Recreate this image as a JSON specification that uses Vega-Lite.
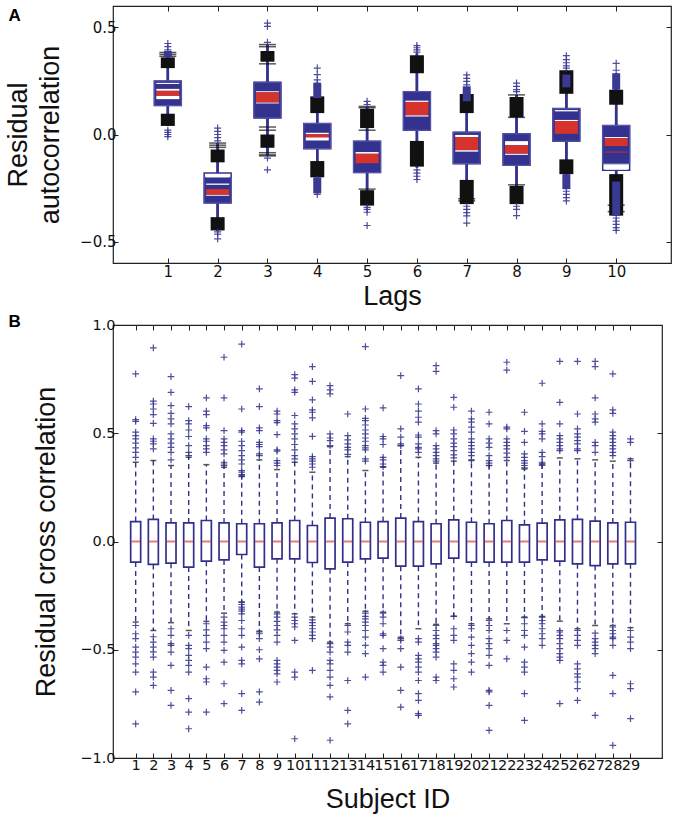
{
 "$schema": "https://vega.github.io/schema/vega-lite/v6.json",
 "padding": {"left": 3, "top": 4, "right": 5, "bottom": 2},
 "spacing": 1,
 "config": {
  "font": "Liberation Sans",
  "view": {"stroke": "#222", "strokeWidth": 1.2},
  "axis": {"grid": false, "domain": false, "tickColor": "#222", "tickSize": -5, "tickWidth": 1, "labelFont": "DejaVu Sans", "labelColor": "#111", "labelPadding": 4, "labelOverlap": false, "labelFlush": false, "titleFont": "Liberation Sans", "titleFontSize": 27, "titleFontWeight": "normal", "titleColor": "#111"}
 },
 "datasets": {
  "a_box": [
   {"lag":1,"q1":0.135,"q3":0.25,"ol":0.135,"oh":0.25,"wlo":0.04,"whi":0.385},
   {"lag":2,"q1":-0.32,"q3":-0.2,"ol":-0.32,"oh":-0.18,"wlo":-0.45,"whi":-0.04},
   {"lag":3,"q1":0.077,"q3":0.244,"ol":0.077,"oh":0.244,"wlo":-0.1,"whi":0.42},
   {"lag":4,"q1":-0.066,"q3":0.051,"ol":-0.066,"oh":0.051,"wlo":-0.2,"whi":0.2},
   {"lag":5,"q1":-0.178,"q3":-0.031,"ol":-0.178,"oh":-0.031,"wlo":-0.332,"whi":0.131},
   {"lag":6,"q1":0.02,"q3":0.2,"ol":0.02,"oh":0.2,"wlo":-0.155,"whi":0.379},
   {"lag":7,"q1":-0.136,"q3":0.011,"ol":-0.136,"oh":0.011,"wlo":-0.325,"whi":0.2},
   {"lag":8,"q1":-0.144,"q3":0.003,"ol":-0.144,"oh":0.003,"wlo":-0.325,"whi":0.185},
   {"lag":9,"q1":-0.031,"q3":0.121,"ol":-0.031,"oh":0.121,"wlo":-0.255,"whi":0.3},
   {"lag":10,"q1":-0.137,"q3":0.042,"ol":-0.167,"oh":0.042,"wlo":-0.379,"whi":0.286}
  ],
  "a_black": [
   {"lag":1,"lo":0.31,"hi":0.36},{"lag":1,"lo":0.04,"hi":0.097},
   {"lag":2,"lo":-0.13,"hi":-0.07},{"lag":2,"lo":-0.448,"hi":-0.386},
   {"lag":3,"lo":0.34,"hi":0.39},{"lag":3,"lo":-0.062,"hi":0.0},
   {"lag":4,"lo":0.1,"hi":0.178},{"lag":4,"lo":-0.2,"hi":-0.124},
   {"lag":5,"lo":0.03,"hi":0.12},{"lag":5,"lo":-0.332,"hi":-0.26},
   {"lag":6,"lo":0.286,"hi":0.37},{"lag":6,"lo":-0.15,"hi":-0.03},
   {"lag":7,"lo":0.1,"hi":0.189},{"lag":7,"lo":-0.325,"hi":-0.212},
   {"lag":8,"lo":0.08,"hi":0.175},{"lag":8,"lo":-0.325,"hi":-0.24},
   {"lag":9,"lo":0.19,"hi":0.3},{"lag":9,"lo":-0.185,"hi":-0.116},
   {"lag":10,"lo":0.139,"hi":0.209},{"lag":10,"lo":-0.379,"hi":-0.185}
  ],
  "a_cap": [
   {"lag":1,"v":0.383},{"lag":1,"v":0.374},{"lag":1,"v":0.365},
   {"lag":2,"v":-0.04},{"lag":2,"v":-0.05},{"lag":2,"v":-0.06},
   {"lag":3,"v":0.42},{"lag":3,"v":0.41},{"lag":3,"v":0.33},{"lag":3,"v":0.035},{"lag":3,"v":0.02},{"lag":3,"v":-0.085},{"lag":3,"v":-0.095},{"lag":3,"v":-0.1},
   {"lag":5,"v":0.131},{"lag":5,"v":0.125},{"lag":5,"v":0.02},{"lag":5,"v":-0.255},
   {"lag":7,"v":-0.3},{"lag":7,"v":-0.31},
   {"lag":8,"v":0.185},{"lag":8,"v":0.08},{"lag":8,"v":-0.235},
   {"lag":10,"v":-0.33},{"lag":10,"v":-0.36}
  ],
  "a_navy": [
   {"lag":1,"lo":0.36,"hi":0.39},
   {"lag":4,"lo":0.17,"hi":0.24},{"lag":4,"lo":-0.275,"hi":-0.2},
   {"lag":7,"lo":0.155,"hi":0.225},
   {"lag":9,"lo":-0.255,"hi":-0.185},{"lag":9,"lo":0.22,"hi":0.28},
   {"lag":10,"lo":0.209,"hi":0.286},{"lag":10,"lo":-0.38,"hi":-0.22}
  ],
  "a_white": [
   {"lag":1,"lo":0.236,"hi":0.241},{"lag":1,"lo":0.204,"hi":0.213},{"lag":1,"lo":0.165,"hi":0.181},
   {"lag":2,"lo":-0.2,"hi":-0.185},{"lag":2,"lo":-0.235,"hi":-0.229},{"lag":2,"lo":-0.286,"hi":-0.281},
   {"lag":3,"lo":0.197,"hi":0.202},{"lag":3,"lo":0.145,"hi":0.15},
   {"lag":4,"lo":0.002,"hi":0.008},{"lag":4,"lo":-0.028,"hi":-0.013},
   {"lag":5,"lo":-0.09,"hi":-0.082},
   {"lag":6,"lo":0.152,"hi":0.158},{"lag":6,"lo":0.084,"hi":0.09},
   {"lag":7,"lo":-0.012,"hi":-0.002},{"lag":7,"lo":-0.08,"hi":-0.073},
   {"lag":8,"lo":-0.05,"hi":-0.031},{"lag":8,"lo":-0.095,"hi":-0.089},
   {"lag":9,"lo":0.108,"hi":0.114},{"lag":9,"lo":0.063,"hi":0.068},
   {"lag":10,"lo":-0.017,"hi":-0.012},{"lag":10,"lo":-0.164,"hi":-0.152}
  ],
  "a_red": [
   {"lag":1,"lo":0.181,"hi":0.204},
   {"lag":2,"lo":-0.281,"hi":-0.255},
   {"lag":3,"lo":0.15,"hi":0.197},
   {"lag":4,"lo":-0.013,"hi":0.002},
   {"lag":5,"lo":-0.134,"hi":-0.09},
   {"lag":6,"lo":0.09,"hi":0.152},
   {"lag":7,"lo":-0.073,"hi":-0.012},
   {"lag":8,"lo":-0.089,"hi":-0.05},
   {"lag":9,"lo":0.003,"hi":0.063},
   {"lag":10,"lo":-0.054,"hi":-0.017},
   {"lag":10,"lo":-0.084,"hi":-0.08}
  ],
  "a_out": [
   {"lag":1,"v":0.425},{"lag":1,"v":0.41},{"lag":1,"v":0.395},{"lag":1,"v":0.02},{"lag":1,"v":0.01},{"lag":1,"v":0.0},{"lag":1,"v":-0.01},
   {"lag":2,"v":0.03},{"lag":2,"v":0.015},{"lag":2,"v":0.0},{"lag":2,"v":-0.015},{"lag":2,"v":-0.03},{"lag":2,"v":-0.455},{"lag":2,"v":-0.465},{"lag":2,"v":-0.487},
   {"lag":3,"v":0.52},{"lag":3,"v":0.505},{"lag":3,"v":0.43},{"lag":3,"v":-0.11},{"lag":3,"v":-0.165},
   {"lag":4,"v":0.31},{"lag":4,"v":0.28},{"lag":4,"v":0.255},{"lag":4,"v":0.24},{"lag":4,"v":0.225},{"lag":4,"v":-0.21},{"lag":4,"v":-0.225},{"lag":4,"v":-0.24},{"lag":4,"v":-0.255},{"lag":4,"v":-0.265},{"lag":4,"v":-0.28},
   {"lag":5,"v":0.155},{"lag":5,"v":0.14},{"lag":5,"v":-0.34},{"lag":5,"v":-0.35},{"lag":5,"v":-0.363},{"lag":5,"v":-0.425},
   {"lag":6,"v":0.415},{"lag":6,"v":0.405},{"lag":6,"v":0.395},{"lag":6,"v":0.385},{"lag":6,"v":-0.165},{"lag":6,"v":-0.18},{"lag":6,"v":-0.195},{"lag":6,"v":-0.21},
   {"lag":7,"v":0.278},{"lag":7,"v":0.262},{"lag":7,"v":0.248},{"lag":7,"v":0.232},{"lag":7,"v":-0.335},{"lag":7,"v":-0.35},{"lag":7,"v":-0.365},{"lag":7,"v":-0.38},{"lag":7,"v":-0.414},
   {"lag":8,"v":0.24},{"lag":8,"v":0.225},{"lag":8,"v":0.21},{"lag":8,"v":0.2},{"lag":8,"v":-0.335},{"lag":8,"v":-0.35},{"lag":8,"v":-0.379},
   {"lag":9,"v":0.368},{"lag":9,"v":0.35},{"lag":9,"v":0.335},{"lag":9,"v":0.32},{"lag":9,"v":0.31},{"lag":9,"v":-0.265},{"lag":9,"v":-0.28},{"lag":9,"v":-0.295},{"lag":9,"v":-0.31},
   {"lag":10,"v":0.332},{"lag":10,"v":0.3},{"lag":10,"v":-0.39},{"lag":10,"v":-0.405},{"lag":10,"v":-0.42},{"lag":10,"v":-0.435},{"lag":10,"v":-0.448}
  ],
  "b_box": [
   {"s":1,"q1":-0.095,"q3":0.092,"lo":-0.372,"hi":0.366,"med":0},
   {"s":2,"q1":-0.106,"q3":0.102,"lo":-0.411,"hi":0.374,"med":0},
   {"s":3,"q1":-0.1,"q3":0.086,"lo":-0.375,"hi":0.351,"med":0},
   {"s":4,"q1":-0.118,"q3":0.086,"lo":-0.411,"hi":0.389,"med":0},
   {"s":5,"q1":-0.091,"q3":0.097,"lo":-0.369,"hi":0.355,"med":0},
   {"s":6,"q1":-0.085,"q3":0.086,"lo":-0.331,"hi":0.343,"med":0},
   {"s":7,"q1":-0.06,"q3":0.082,"lo":-0.28,"hi":0.305,"med":0},
   {"s":8,"q1":-0.118,"q3":0.082,"lo":-0.414,"hi":0.377,"med":0},
   {"s":9,"q1":-0.08,"q3":0.086,"lo":-0.326,"hi":0.332,"med":0},
   {"s":10,"q1":-0.08,"q3":0.097,"lo":-0.334,"hi":0.366,"med":0},
   {"s":11,"q1":-0.097,"q3":0.074,"lo":-0.349,"hi":0.32,"med":0},
   {"s":12,"q1":-0.126,"q3":0.108,"lo":-0.465,"hi":0.438,"med":0},
   {"s":13,"q1":-0.095,"q3":0.105,"lo":-0.38,"hi":0.392,"med":0},
   {"s":14,"q1":-0.08,"q3":0.089,"lo":-0.322,"hi":0.328,"med":0},
   {"s":15,"q1":-0.077,"q3":0.092,"lo":-0.326,"hi":0.343,"med":0},
   {"s":16,"q1":-0.114,"q3":0.108,"lo":-0.442,"hi":0.443,"med":0},
   {"s":17,"q1":-0.114,"q3":0.092,"lo":-0.403,"hi":0.389,"med":0},
   {"s":18,"q1":-0.103,"q3":0.082,"lo":-0.383,"hi":0.362,"med":0},
   {"s":19,"q1":-0.077,"q3":0.1,"lo":-0.345,"hi":0.371,"med":0},
   {"s":20,"q1":-0.095,"q3":0.089,"lo":-0.38,"hi":0.374,"med":0},
   {"s":21,"q1":-0.095,"q3":0.082,"lo":-0.357,"hi":0.351,"med":0},
   {"s":22,"q1":-0.095,"q3":0.097,"lo":-0.38,"hi":0.374,"med":0},
   {"s":23,"q1":-0.095,"q3":0.077,"lo":-0.349,"hi":0.335,"med":0},
   {"s":24,"q1":-0.085,"q3":0.085,"lo":-0.346,"hi":0.358,"med":0},
   {"s":25,"q1":-0.091,"q3":0.1,"lo":-0.368,"hi":0.386,"med":0},
   {"s":26,"q1":-0.103,"q3":0.102,"lo":-0.403,"hi":0.382,"med":0},
   {"s":27,"q1":-0.111,"q3":0.094,"lo":-0.388,"hi":0.377,"med":0},
   {"s":28,"q1":-0.103,"q3":0.086,"lo":-0.388,"hi":0.371,"med":0},
   {"s":29,"q1":-0.103,"q3":0.089,"lo":-0.398,"hi":0.382,"med":0}
  ],
  "b_out": [
   {"s":1,"v":0.774},{"s":1,"v":0.563},{"s":1,"v":0.555},{"s":1,"v":0.505},{"s":1,"v":0.489},{"s":1,"v":0.474},{"s":1,"v":0.454},{"s":1,"v":0.432},{"s":1,"v":0.412},{"s":1,"v":0.389},{"s":1,"v":-0.388},{"s":1,"v":-0.426},{"s":1,"v":-0.449},{"s":1,"v":-0.488},{"s":1,"v":-0.511},{"s":1,"v":-0.534},{"s":1,"v":-0.565},{"s":1,"v":-0.603},{"s":1,"v":-0.695},{"s":1,"v":-0.842},
   {"s":2,"v":0.894},{"s":2,"v":0.648},{"s":2,"v":0.635},{"s":2,"v":0.612},{"s":2,"v":0.586},{"s":2,"v":0.546},{"s":2,"v":0.474},{"s":2,"v":0.463},{"s":2,"v":0.451},{"s":2,"v":0.428},{"s":2,"v":-0.44},{"s":2,"v":-0.465},{"s":2,"v":-0.488},{"s":2,"v":-0.51},{"s":2,"v":-0.534},{"s":2,"v":-0.603},{"s":2,"v":-0.626},{"s":2,"v":-0.665},
   {"s":3,"v":0.762},{"s":3,"v":0.689},{"s":3,"v":0.628},{"s":3,"v":0.592},{"s":3,"v":0.566},{"s":3,"v":0.543},{"s":3,"v":0.497},{"s":3,"v":0.474},{"s":3,"v":0.454},{"s":3,"v":0.435},{"s":3,"v":0.412},{"s":3,"v":0.377},{"s":3,"v":-0.403},{"s":3,"v":-0.434},{"s":3,"v":-0.472},{"s":3,"v":-0.48},{"s":3,"v":-0.511},{"s":3,"v":-0.572},{"s":3,"v":-0.688},{"s":3,"v":-0.757},
   {"s":4,"v":0.623},{"s":4,"v":0.558},{"s":4,"v":0.543},{"s":4,"v":0.515},{"s":4,"v":0.485},{"s":4,"v":0.443},{"s":4,"v":0.412},{"s":4,"v":0.397},{"s":4,"v":-0.434},{"s":4,"v":-0.48},{"s":4,"v":-0.495},{"s":4,"v":-0.526},{"s":4,"v":-0.549},{"s":4,"v":-0.572},{"s":4,"v":-0.603},{"s":4,"v":-0.726},{"s":4,"v":-0.788},{"s":4,"v":-0.865},
   {"s":5,"v":0.663},{"s":5,"v":0.602},{"s":5,"v":0.586},{"s":5,"v":0.535},{"s":5,"v":0.525},{"s":5,"v":0.474},{"s":5,"v":0.463},{"s":5,"v":0.443},{"s":5,"v":0.428},{"s":5,"v":0.412},{"s":5,"v":-0.38},{"s":5,"v":-0.408},{"s":5,"v":-0.434},{"s":5,"v":-0.465},{"s":5,"v":-0.495},{"s":5,"v":-0.58},{"s":5,"v":-0.634},{"s":5,"v":-0.649},{"s":5,"v":-0.788},
   {"s":6,"v":0.851},{"s":6,"v":0.663},{"s":6,"v":0.512},{"s":6,"v":0.474},{"s":6,"v":0.458},{"s":6,"v":0.443},{"s":6,"v":0.423},{"s":6,"v":0.405},{"s":6,"v":0.366},{"s":6,"v":0.358},{"s":6,"v":0.351},{"s":6,"v":-0.349},{"s":6,"v":-0.372},{"s":6,"v":-0.388},{"s":6,"v":-0.403},{"s":6,"v":-0.434},{"s":6,"v":-0.465},{"s":6,"v":-0.503},{"s":6,"v":-0.557},{"s":6,"v":-0.657},{"s":6,"v":-0.749},
   {"s":7,"v":0.912},{"s":7,"v":0.612},{"s":7,"v":0.512},{"s":7,"v":0.505},{"s":7,"v":0.463},{"s":7,"v":0.443},{"s":7,"v":0.42},{"s":7,"v":0.397},{"s":7,"v":0.377},{"s":7,"v":0.358},{"s":7,"v":0.328},{"s":7,"v":0.32},{"s":7,"v":0.309},{"s":7,"v":0.3},{"s":7,"v":-0.28},{"s":7,"v":-0.291},{"s":7,"v":-0.303},{"s":7,"v":-0.312},{"s":7,"v":-0.322},{"s":7,"v":-0.334},{"s":7,"v":-0.365},{"s":7,"v":-0.403},{"s":7,"v":-0.434},{"s":7,"v":-0.488},{"s":7,"v":-0.549},{"s":7,"v":-0.565},{"s":7,"v":-0.703},{"s":7,"v":-0.78},
   {"s":8,"v":0.705},{"s":8,"v":0.623},{"s":8,"v":0.525},{"s":8,"v":0.512},{"s":8,"v":0.458},{"s":8,"v":0.448},{"s":8,"v":0.438},{"s":8,"v":0.405},{"s":8,"v":0.397},{"s":8,"v":-0.418},{"s":8,"v":-0.426},{"s":8,"v":-0.449},{"s":8,"v":-0.5},{"s":8,"v":-0.542},{"s":8,"v":-0.695},{"s":8,"v":-0.742},
   {"s":9,"v":0.602},{"s":9,"v":0.589},{"s":9,"v":0.558},{"s":9,"v":0.549},{"s":9,"v":0.494},{"s":9,"v":0.423},{"s":9,"v":0.417},{"s":9,"v":0.374},{"s":9,"v":0.362},{"s":9,"v":0.351},{"s":9,"v":-0.334},{"s":9,"v":-0.349},{"s":9,"v":-0.369},{"s":9,"v":-0.388},{"s":9,"v":-0.408},{"s":9,"v":-0.434},{"s":9,"v":-0.465},{"s":9,"v":-0.549},{"s":9,"v":-0.565},{"s":9,"v":-0.58},{"s":9,"v":-0.595},{"s":9,"v":-0.611},{"s":9,"v":-0.649},
   {"s":10,"v":0.771},{"s":10,"v":0.755},{"s":10,"v":0.7},{"s":10,"v":0.689},{"s":10,"v":0.582},{"s":10,"v":0.543},{"s":10,"v":0.52},{"s":10,"v":0.497},{"s":10,"v":0.474},{"s":10,"v":0.448},{"s":10,"v":0.423},{"s":10,"v":0.397},{"s":10,"v":0.382},{"s":10,"v":-0.349},{"s":10,"v":-0.365},{"s":10,"v":-0.38},{"s":10,"v":-0.395},{"s":10,"v":-0.457},{"s":10,"v":-0.603},{"s":10,"v":-0.626},{"s":10,"v":-0.911},
   {"s":11,"v":0.808},{"s":11,"v":0.74},{"s":11,"v":0.654},{"s":11,"v":0.608},{"s":11,"v":0.597},{"s":11,"v":0.571},{"s":11,"v":0.486},{"s":11,"v":0.392},{"s":11,"v":0.382},{"s":11,"v":0.371},{"s":11,"v":0.358},{"s":11,"v":0.343},{"s":11,"v":-0.362},{"s":11,"v":-0.375},{"s":11,"v":-0.388},{"s":11,"v":-0.403},{"s":11,"v":-0.418},{"s":11,"v":-0.434},{"s":11,"v":-0.449},{"s":11,"v":-0.595},
   {"s":12,"v":0.72},{"s":12,"v":0.7},{"s":12,"v":0.682},{"s":12,"v":0.497},{"s":12,"v":0.478},{"s":12,"v":0.466},{"s":12,"v":0.443},{"s":12,"v":-0.472},{"s":12,"v":-0.488},{"s":12,"v":-0.511},{"s":12,"v":-0.549},{"s":12,"v":-0.565},{"s":12,"v":-0.595},{"s":12,"v":-0.626},{"s":12,"v":-0.665},{"s":12,"v":-0.718},{"s":12,"v":-0.918},
   {"s":13,"v":0.589},{"s":13,"v":0.489},{"s":13,"v":0.469},{"s":13,"v":0.451},{"s":13,"v":0.435},{"s":13,"v":0.423},{"s":13,"v":0.402},{"s":13,"v":-0.388},{"s":13,"v":-0.418},{"s":13,"v":-0.465},{"s":13,"v":-0.48},{"s":13,"v":-0.511},{"s":13,"v":-0.642},{"s":13,"v":-0.78},{"s":13,"v":-0.842},
   {"s":14,"v":0.9},{"s":14,"v":0.612},{"s":14,"v":0.569},{"s":14,"v":0.558},{"s":14,"v":0.538},{"s":14,"v":0.515},{"s":14,"v":0.497},{"s":14,"v":0.478},{"s":14,"v":0.463},{"s":14,"v":0.443},{"s":14,"v":0.432},{"s":14,"v":0.423},{"s":14,"v":0.382},{"s":14,"v":0.371},{"s":14,"v":-0.331},{"s":14,"v":-0.346},{"s":14,"v":-0.357},{"s":14,"v":-0.372},{"s":14,"v":-0.388},{"s":14,"v":-0.411},{"s":14,"v":-0.442},{"s":14,"v":-0.48},{"s":14,"v":-0.518},{"s":14,"v":-0.626},
   {"s":15,"v":0.617},{"s":15,"v":0.485},{"s":15,"v":0.474},{"s":15,"v":0.448},{"s":15,"v":0.389},{"s":15,"v":0.377},{"s":15,"v":0.358},{"s":15,"v":0.346},{"s":15,"v":-0.331},{"s":15,"v":-0.349},{"s":15,"v":-0.38},{"s":15,"v":-0.426},{"s":15,"v":-0.434},{"s":15,"v":-0.495},{"s":15,"v":-0.557},{"s":15,"v":-0.572},{"s":15,"v":-0.603},
   {"s":16,"v":0.766},{"s":16,"v":0.52},{"s":16,"v":0.482},{"s":16,"v":0.451},{"s":16,"v":0.443},{"s":16,"v":-0.449},{"s":16,"v":-0.457},{"s":16,"v":-0.495},{"s":16,"v":-0.58},{"s":16,"v":-0.688},{"s":16,"v":-0.765},
   {"s":17,"v":0.705},{"s":17,"v":0.635},{"s":17,"v":0.602},{"s":17,"v":0.574},{"s":17,"v":0.551},{"s":17,"v":0.492},{"s":17,"v":0.482},{"s":17,"v":0.451},{"s":17,"v":0.435},{"s":17,"v":0.428},{"s":17,"v":0.412},{"s":17,"v":-0.449},{"s":17,"v":-0.465},{"s":17,"v":-0.526},{"s":17,"v":-0.542},{"s":17,"v":-0.557},{"s":17,"v":-0.58},{"s":17,"v":-0.603},{"s":17,"v":-0.642},{"s":17,"v":-0.703},{"s":17,"v":-0.734},{"s":17,"v":-0.795},{"s":17,"v":-0.803},
   {"s":18,"v":0.812},{"s":18,"v":0.786},{"s":18,"v":0.512},{"s":18,"v":0.497},{"s":18,"v":0.443},{"s":18,"v":0.428},{"s":18,"v":0.412},{"s":18,"v":0.397},{"s":18,"v":0.382},{"s":18,"v":0.371},{"s":18,"v":-0.388},{"s":18,"v":-0.411},{"s":18,"v":-0.434},{"s":18,"v":-0.449},{"s":18,"v":-0.472},{"s":18,"v":-0.48},{"s":18,"v":-0.495},{"s":18,"v":-0.511},{"s":18,"v":-0.534},{"s":18,"v":-0.626},{"s":18,"v":-0.642},
   {"s":19,"v":0.666},{"s":19,"v":0.62},{"s":19,"v":0.515},{"s":19,"v":0.497},{"s":19,"v":0.474},{"s":19,"v":0.454},{"s":19,"v":0.438},{"s":19,"v":0.42},{"s":19,"v":0.4},{"s":19,"v":0.386},{"s":19,"v":-0.346},{"s":19,"v":-0.403},{"s":19,"v":-0.434},{"s":19,"v":-0.457},{"s":19,"v":-0.565},{"s":19,"v":-0.595},{"s":19,"v":-0.634},{"s":19,"v":-0.672},
   {"s":20,"v":0.602},{"s":20,"v":0.566},{"s":20,"v":0.551},{"s":20,"v":0.528},{"s":20,"v":0.505},{"s":20,"v":0.474},{"s":20,"v":0.458},{"s":20,"v":0.443},{"s":20,"v":0.428},{"s":20,"v":0.412},{"s":20,"v":0.397},{"s":20,"v":0.377},{"s":20,"v":-0.388},{"s":20,"v":-0.403},{"s":20,"v":-0.442},{"s":20,"v":-0.48},{"s":20,"v":-0.518},{"s":20,"v":-0.557},{"s":20,"v":-0.603},
   {"s":21,"v":0.597},{"s":21,"v":0.543},{"s":21,"v":0.474},{"s":21,"v":0.454},{"s":21,"v":0.435},{"s":21,"v":0.397},{"s":21,"v":0.374},{"s":21,"v":0.362},{"s":21,"v":0.351},{"s":21,"v":-0.365},{"s":21,"v":-0.388},{"s":21,"v":-0.411},{"s":21,"v":-0.449},{"s":21,"v":-0.472},{"s":21,"v":-0.495},{"s":21,"v":-0.526},{"s":21,"v":-0.572},{"s":21,"v":-0.688},{"s":21,"v":-0.695},{"s":21,"v":-0.757},{"s":21,"v":-0.872},
   {"s":22,"v":0.828},{"s":22,"v":0.792},{"s":22,"v":0.528},{"s":22,"v":0.52},{"s":22,"v":0.474},{"s":22,"v":0.458},{"s":22,"v":0.443},{"s":22,"v":0.428},{"s":22,"v":0.408},{"s":22,"v":0.389},{"s":22,"v":-0.411},{"s":22,"v":-0.457},{"s":22,"v":-0.542},
   {"s":23,"v":0.597},{"s":23,"v":0.509},{"s":23,"v":0.458},{"s":23,"v":0.405},{"s":23,"v":0.389},{"s":23,"v":0.374},{"s":23,"v":0.362},{"s":23,"v":0.351},{"s":23,"v":0.34},{"s":23,"v":-0.352},{"s":23,"v":-0.38},{"s":23,"v":-0.411},{"s":23,"v":-0.434},{"s":23,"v":-0.488},{"s":23,"v":-0.557},{"s":23,"v":-0.58},{"s":23,"v":-0.603},{"s":23,"v":-0.703},{"s":23,"v":-0.826},
   {"s":24,"v":0.731},{"s":24,"v":0.543},{"s":24,"v":0.509},{"s":24,"v":0.497},{"s":24,"v":0.474},{"s":24,"v":0.412},{"s":24,"v":0.392},{"s":24,"v":0.366},{"s":24,"v":0.358},{"s":24,"v":0.351},{"s":24,"v":-0.349},{"s":24,"v":-0.365},{"s":24,"v":-0.38},{"s":24,"v":-0.403},{"s":24,"v":-0.426},{"s":24,"v":-0.449},{"s":24,"v":-0.48},
   {"s":25,"v":0.832},{"s":25,"v":0.643},{"s":25,"v":0.543},{"s":25,"v":0.489},{"s":25,"v":0.474},{"s":25,"v":0.458},{"s":25,"v":0.443},{"s":25,"v":0.428},{"s":25,"v":0.42},{"s":25,"v":-0.411},{"s":25,"v":-0.418},{"s":25,"v":-0.434},{"s":25,"v":-0.449},{"s":25,"v":-0.472},{"s":25,"v":-0.495},{"s":25,"v":-0.518},{"s":25,"v":-0.534},{"s":25,"v":-0.549},{"s":25,"v":-0.749},
   {"s":26,"v":0.832},{"s":26,"v":0.589},{"s":26,"v":0.52},{"s":26,"v":0.497},{"s":26,"v":0.482},{"s":26,"v":0.466},{"s":26,"v":0.451},{"s":26,"v":0.428},{"s":26,"v":0.42},{"s":26,"v":-0.411},{"s":26,"v":-0.434},{"s":26,"v":-0.457},{"s":26,"v":-0.48},{"s":26,"v":-0.565},{"s":26,"v":-0.588},{"s":26,"v":-0.611},{"s":26,"v":-0.626},{"s":26,"v":-0.649},{"s":26,"v":-0.68},{"s":26,"v":-0.734},
   {"s":27,"v":0.832},{"s":27,"v":0.808},{"s":27,"v":0.663},{"s":27,"v":0.589},{"s":27,"v":0.566},{"s":27,"v":0.551},{"s":27,"v":0.458},{"s":27,"v":0.443},{"s":27,"v":0.412},{"s":27,"v":-0.423},{"s":27,"v":-0.449},{"s":27,"v":-0.465},{"s":27,"v":-0.48},{"s":27,"v":-0.495},{"s":27,"v":-0.518},{"s":27,"v":-0.803},
   {"s":28,"v":0.774},{"s":28,"v":0.608},{"s":28,"v":0.592},{"s":28,"v":0.505},{"s":28,"v":0.489},{"s":28,"v":0.474},{"s":28,"v":0.458},{"s":28,"v":0.443},{"s":28,"v":0.428},{"s":28,"v":0.412},{"s":28,"v":0.397},{"s":28,"v":-0.395},{"s":28,"v":-0.411},{"s":28,"v":-0.426},{"s":28,"v":-0.442},{"s":28,"v":-0.449},{"s":28,"v":-0.48},{"s":28,"v":-0.618},{"s":28,"v":-0.703},{"s":28,"v":-0.942},
   {"s":29,"v":0.474},{"s":29,"v":0.458},{"s":29,"v":0.374},{"s":29,"v":-0.411},{"s":29,"v":-0.442},{"s":29,"v":-0.465},{"s":29,"v":-0.495},{"s":29,"v":-0.657},{"s":29,"v":-0.68},{"s":29,"v":-0.818}
  ]
 },
 "vconcat": [
  {
   "width": 558, "height": 257,
   "resolve": {"axis": {"x": "independent", "y": "independent"}},
   "layer": [
    {"data": {"name": "a_box"}, "mark": {"type": "rule", "color": "#33338f", "strokeWidth": 2.5},
     "encoding": {
      "x": {"field": "lag", "type": "quantitative", "scale": {"domain": [0, 11], "nice": false, "zero": false},
            "axis": {"values": [1,2,3,4,5,6,7,8,9,10], "title": "Lags", "labelFontSize": 15, "labelPadding": 6, "titlePadding": 4}},
      "y": {"field": "wlo", "type": "quantitative", "scale": {"domain": [-0.6, 0.6], "nice": false, "zero": false},
            "axis": {"values": [-0.5, 0, 0.5], "format": ".1f", "labelFontSize": 15, "labelPadding": 2, "title": ["Residual", "autocorrelation"], "titleX": -87, "titleBaseline": "alphabetic", "titleLineHeight": 32}},
      "y2": {"field": "whi"}
     }},
    {"data": {"name": "a_box"}, "mark": {"type": "rule", "color": "#33338f", "strokeWidth": 2.5},
     "encoding": {
      "x": {"field": "lag", "type": "quantitative", "axis": {"orient": "top", "values": [1,2,3,4,5,6,7,8,9,10], "labels": false, "title": "A", "titleX": -105, "titleY": 14, "titleAlign": "left", "titleAnchor": null, "titleBaseline": "alphabetic", "titleAngle": 0, "titleFontSize": 17, "titleFontWeight": "bold", "titleColor": "#000"}},
      "y": {"field": "wlo", "type": "quantitative", "axis": {"orient": "right", "values": [-0.5, 0, 0.5], "labels": false, "title": null}},
      "y2": {"field": "whi"}
     }},
    {"data": {"name": "a_black"}, "mark": {"type": "bar", "orient": "vertical", "size": 14, "color": "#111"},
     "encoding": {"x": {"field": "lag", "type": "quantitative", "axis": null}, "y": {"field": "lo", "type": "quantitative", "axis": null}, "y2": {"field": "hi"}}},
    {"data": {"name": "a_cap"}, "mark": {"type": "tick", "orient": "horizontal", "size": 17, "thickness": 1.5, "color": "#111"},
     "encoding": {"x": {"field": "lag", "type": "quantitative", "axis": null}, "y": {"field": "v", "type": "quantitative", "axis": null}}},
    {"data": {"name": "a_navy"}, "mark": {"type": "bar", "orient": "vertical", "size": 8, "color": "#3a3a95"},
     "encoding": {"x": {"field": "lag", "type": "quantitative", "axis": null}, "y": {"field": "lo", "type": "quantitative", "axis": null}, "y2": {"field": "hi"}}},
    {"data": {"name": "a_box"}, "mark": {"type": "bar", "orient": "vertical", "size": 27, "fill": "#ffffff", "stroke": "#33338f", "strokeWidth": 1.5},
     "encoding": {"x": {"field": "lag", "type": "quantitative", "axis": null}, "y": {"field": "ol", "type": "quantitative", "axis": null}, "y2": {"field": "oh"}}},
    {"data": {"name": "a_box"}, "mark": {"type": "bar", "orient": "vertical", "size": 27, "fill": "#33338f", "stroke": "#5a5aa8", "strokeWidth": 1},
     "encoding": {"x": {"field": "lag", "type": "quantitative", "axis": null}, "y": {"field": "q1", "type": "quantitative", "axis": null}, "y2": {"field": "q3"}}},
    {"data": {"name": "a_white"}, "mark": {"type": "bar", "orient": "vertical", "size": 23, "color": "#ffffff"},
     "encoding": {"x": {"field": "lag", "type": "quantitative", "axis": null}, "y": {"field": "lo", "type": "quantitative", "axis": null}, "y2": {"field": "hi"}}},
    {"data": {"name": "a_red"}, "mark": {"type": "bar", "orient": "vertical", "size": 23, "color": "#d5332b"},
     "encoding": {"x": {"field": "lag", "type": "quantitative", "axis": null}, "y": {"field": "lo", "type": "quantitative", "axis": null}, "y2": {"field": "hi"}}},
    {"data": {"name": "a_out"}, "mark": {"type": "point", "shape": "M-1,0L1,0M0,-1L0,1", "size": 50, "filled": false, "stroke": "#3a3a95", "strokeWidth": 1.2, "opacity": 0.9},
     "encoding": {"x": {"field": "lag", "type": "quantitative", "axis": null}, "y": {"field": "v", "type": "quantitative", "axis": null}}}
   ]
  },
  {
   "width": 549, "height": 433,
   "resolve": {"axis": {"x": "independent", "y": "independent"}},
   "layer": [
    {"data": {"name": "b_box"}, "mark": {"type": "rule", "color": "#30308a", "strokeWidth": 1.4, "strokeDash": [5, 4]},
     "encoding": {
      "x": {"field": "s", "type": "quantitative", "scale": {"domain": [0, 30.5], "nice": false, "zero": false},
            "axis": {"values": [1,2,3,4,5,6,7,8,9,10,11,12,13,14,15,16,17,18,19,20,21,22,23,24,25,26,27,28,29], "title": "Subject ID", "labelFontSize": 14.5, "labelPadding": 5, "titlePadding": 15}},
      "y": {"field": "q3", "type": "quantitative", "scale": {"domain": [-1, 1], "nice": false, "zero": false},
            "axis": {"values": [-1, -0.5, 0, 0.5, 1], "format": ".1f", "labelFontSize": 14.5, "labelPadding": 3, "title": "Residual cross correlation", "titleX": -59, "titleBaseline": "alphabetic"}},
      "y2": {"field": "hi"}
     }},
    {"data": {"name": "b_box"}, "mark": {"type": "rule", "color": "#30308a", "strokeWidth": 1.4, "strokeDash": [5, 4]},
     "encoding": {
      "x": {"field": "s", "type": "quantitative", "axis": {"orient": "top", "values": [1,2,3,4,5,6,7,8,9,10,11,12,13,14,15,16,17,18,19,20,21,22,23,24,25,26,27,28,29], "labels": false, "title": "B", "titleX": -105, "titleY": 1, "titleAlign": "left", "titleAnchor": null, "titleBaseline": "alphabetic", "titleAngle": 0, "titleFontSize": 17, "titleFontWeight": "bold", "titleColor": "#000"}},
      "y": {"field": "q1", "type": "quantitative", "axis": {"orient": "right", "values": [-1, -0.5, 0, 0.5, 1], "labels": false, "title": null}},
      "y2": {"field": "lo"}
     }},
    {"data": {"name": "b_box"}, "mark": {"type": "bar", "orient": "vertical", "size": 10, "fill": "#ffffff", "stroke": "#30308a", "strokeWidth": 1.7},
     "encoding": {"x": {"field": "s", "type": "quantitative", "axis": null}, "y": {"field": "q1", "type": "quantitative", "axis": null}, "y2": {"field": "q3"}}},
    {"data": {"name": "b_box"}, "mark": {"type": "tick", "orient": "horizontal", "size": 9, "thickness": 2, "color": "#d6443d"},
     "encoding": {"x": {"field": "s", "type": "quantitative", "axis": null}, "y": {"field": "med", "type": "quantitative", "axis": null}}},
    {"data": {"name": "b_box"}, "mark": {"type": "tick", "orient": "horizontal", "size": 6, "thickness": 1.5, "color": "#111"},
     "encoding": {"x": {"field": "s", "type": "quantitative", "axis": null}, "y": {"field": "hi", "type": "quantitative", "axis": null}}},
    {"data": {"name": "b_box"}, "mark": {"type": "tick", "orient": "horizontal", "size": 6, "thickness": 1.5, "color": "#111"},
     "encoding": {"x": {"field": "s", "type": "quantitative", "axis": null}, "y": {"field": "lo", "type": "quantitative", "axis": null}}},
    {"data": {"name": "b_out"}, "mark": {"type": "point", "shape": "M-1,0L1,0M0,-1L0,1", "size": 45, "filled": false, "stroke": "#30308a", "strokeWidth": 1.2, "opacity": 0.85},
     "encoding": {"x": {"field": "s", "type": "quantitative", "axis": null}, "y": {"field": "v", "type": "quantitative", "axis": null}}}
   ]
  }
 ]
}
